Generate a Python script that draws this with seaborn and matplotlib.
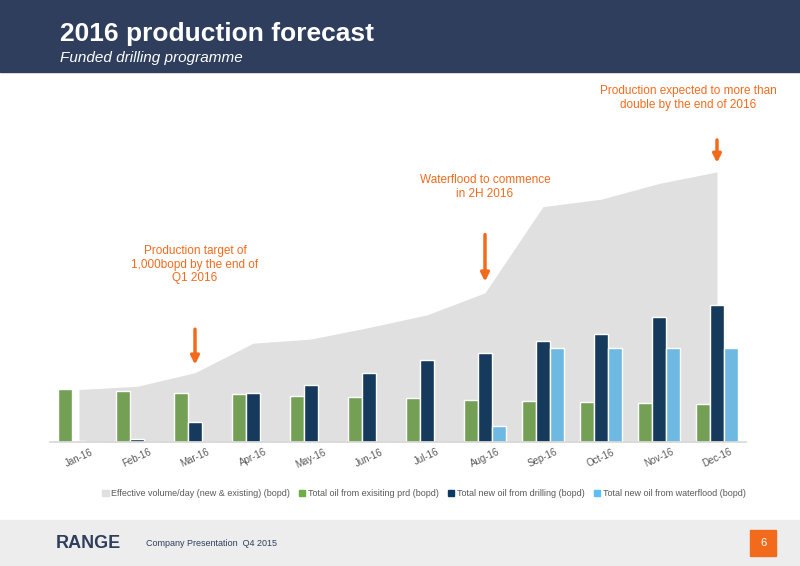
import numpy as np
import pandas as pd
import seaborn as sns
import matplotlib.pyplot as plt
from matplotlib.patches import Rectangle

months = ['Jan-16', 'Feb-16', 'Mar-16', 'Apr-16', 'May-16', 'Jun-16',
          'Jul-16', 'Aug-16', 'Sep-16', 'Oct-16', 'Nov-16', 'Dec-16']
effective = [1000, 1060, 1320, 1880, 1960, 2180, 2420, 2840, 4480, 4620, 4920, 5140]
existing = [1000, 980, 940, 920, 880, 860, 840, 800, 780, 760, 740, 720]
drilling = [20, 60, 380, 940, 1080, 1320, 1560, 1700, 1920, 2060, 2380, 2600]
waterflood = [0, 0, 0, 0, 0, 0, 0, 300, 1780, 1780, 1780, 1780]

names = ['Total oil from exisiting prd (bopd)', 'Total new oil from drilling (bopd)',
         'Total new oil from waterflood (bopd)']
colors = ['#70AD47', '#0B3A66', '#5BBEF5']

df = pd.DataFrame({'month': months * 3,
                   'value': existing + drilling + waterflood,
                   'series': sum([[n] * len(months) for n in names], [])})

sns.set_theme(style='white')
plt.rcParams['font.family'] = ['Liberation Sans', 'DejaVu Sans']

fig = plt.figure(figsize=(8, 5.66), dpi=100)
# header and footer bands
fig.patches.append(Rectangle((0, 1 - 72 / 566), 1, 72 / 566, transform=fig.transFigure,
                             color='#2E3E5C', zorder=0))
fig.patches.append(Rectangle((0, 0), 1, 46 / 566, transform=fig.transFigure,
                             color='#EDEDED', zorder=0))
fig.text(0.075, 0.94, '2016 production forecast', color='white', fontsize=19,
         fontweight='bold', va='center')
fig.text(0.075, 0.898, 'Funded drilling programme', color='white', fontsize=11,
         style='italic', va='center')
fig.text(0.07, 0.04, 'RANGE', color='#2E3E5C', fontsize=13, fontweight='bold', va='center')
fig.text(0.183, 0.04, 'Company Presentation  Q4 2015', color='#2E3E5C', fontsize=6.5, va='center')
fig.patches.append(Rectangle((0.938, 0.018), 0.032, 0.045, transform=fig.transFigure,
                             color='#F26B1D', zorder=1))
fig.text(0.954, 0.04, '6', color='white', fontsize=8, ha='center', va='center')

ax = fig.add_axes([0.0625, 0.219, 0.87, 0.65])
x = np.arange(len(months))
ax.fill_between(x, effective, color='#E0E0E0', lw=0, zorder=0)
sns.barplot(data=df, x='month', y='value', hue='series', palette=colors,
            width=0.74, ax=ax, zorder=2, legend=False)
ax.set_xlim(-0.5, 11.5)
ax.set_ylim(0, 7000)
ax.set_yticks([])
ax.set_xlabel('')
ax.set_ylabel('')
for s in ['top', 'right', 'left']:
    ax.spines[s].set_visible(False)
ax.spines['bottom'].set_color('#D9D9D9')
ax.tick_params(axis='x', length=0, labelsize=7, colors='#595959')
plt.setp(ax.get_xticklabels(), rotation=25)

orange = '#F26B1D'
notes = [(2, 'Production target of\n1,000bopd by the end of\nQ1 2016', 3000, 2200, 1420),
         (7, 'Waterflood to commence\nin 2H 2016', 4600, 4000, 3000),
         (11, 'Production expected to more than\ndouble by the end of 2016', 6300, 5800, 5260)]
for i, txt, ty, a0, a1 in notes:
    tx = i - 0.5 if i == 11 else i
    ax.text(tx, ty, txt, color=orange, fontsize=8.5, ha='center', va='bottom')
    ax.annotate('', xy=(i, a1), xytext=(i, a0),
                arrowprops=dict(arrowstyle='-|>', color=orange, lw=2.5, mutation_scale=12))

handles = [Rectangle((0, 0), 1, 1, color=c) for c in ['#E0E0E0'] + colors]
labels = ['Effective volume/day (new & existing) (bopd)'] + names
fig.legend(handles, labels, loc='center', bbox_to_anchor=(0.53, 0.128), ncol=4,
           frameon=False, fontsize=6.5, handlelength=0.7, handleheight=0.7,
           columnspacing=1.0, handletextpad=0.3, labelcolor='#595959')

fig.savefig('out.png', dpi=100)
